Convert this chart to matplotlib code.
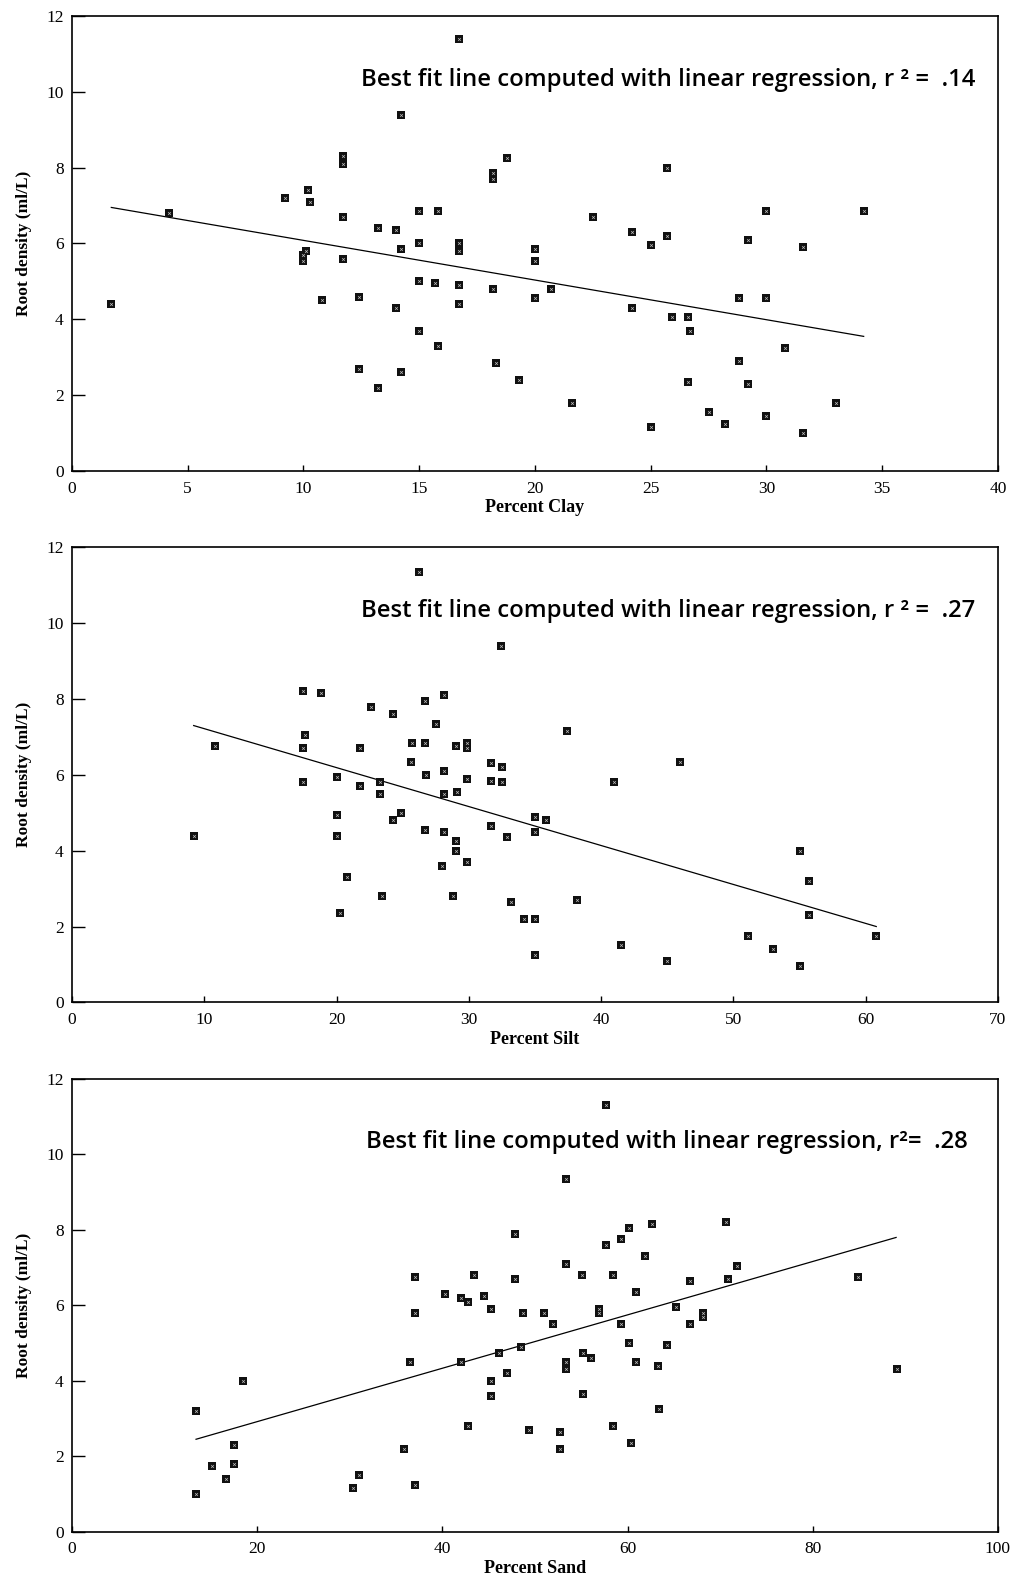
import matplotlib
matplotlib.use("Agg")
import matplotlib.pyplot as plt
import numpy as np

# ---- data ----
clay_x = [1.7, 4.2, 9.2, 10.0, 10.0, 10.1, 10.2, 10.3, 10.8, 11.7, 11.7, 11.7, 11.7,
          12.4, 12.4, 13.2, 13.2, 14.0, 14.0, 14.2, 14.2, 14.2, 15.0, 15.0, 15.0, 15.0,
          15.7, 15.8, 15.8, 16.7, 16.7, 16.7, 16.7, 16.7, 18.2, 18.2, 18.2, 18.3, 18.8,
          19.3, 20.0, 20.0, 20.0, 20.7, 21.6, 22.5, 24.2, 24.2, 25.0, 25.0, 25.7, 25.7,
          25.9, 26.6, 26.7, 26.6, 27.5, 28.2, 28.8, 28.8, 29.2, 29.2, 30.0, 30.0, 30.0,
          30.8, 31.6, 31.6, 33.0, 34.2]
clay_y = [4.4, 6.8, 7.2, 5.55, 5.7, 5.8, 7.4, 7.1, 4.5, 8.3, 8.1, 6.7, 5.6,
          4.6, 2.7, 6.4, 2.2, 6.35, 4.3, 9.4, 5.85, 2.6, 6.85, 6.0, 5.0, 3.7,
          4.95, 6.85, 3.3, 11.4, 6.0, 5.8, 4.9, 4.4, 7.85, 7.7, 4.8, 2.85, 8.25,
          2.4, 5.85, 5.55, 4.55, 4.8, 1.8, 6.7, 6.3, 4.3, 5.95, 1.15, 8.0, 6.2,
          4.05, 4.05, 3.7, 2.35, 1.55, 1.25, 4.55, 2.9, 6.1, 2.3, 6.85, 4.55, 1.45,
          3.25, 5.9, 1.0, 1.8, 6.85]
clay_fit_x = [1.7, 34.2]
clay_fit_y = [6.95, 3.55]

silt_x = [9.2, 10.8, 17.5, 17.6, 17.5, 17.5, 18.8, 20.0, 20.0, 20.0, 20.3, 20.8,
          21.8, 21.8, 22.6, 23.3, 23.3, 23.4, 24.3, 24.3, 24.9, 25.7, 25.6, 26.2,
          26.7, 26.7, 26.8, 26.7, 27.5, 28.1, 28.1, 28.1, 28.1, 28.0, 28.8, 29.0,
          29.1, 29.0, 29.0, 29.9, 29.9, 29.9, 29.9, 31.7, 31.7, 31.7, 32.4, 32.5,
          32.5, 32.9, 33.2, 34.2, 35.0, 35.0, 35.0, 35.0, 35.8, 37.4, 38.2, 41.0,
          41.5, 45.0, 46.0, 51.1, 53.0, 55.0, 55.0, 55.7, 55.7, 60.8]
silt_y = [4.4, 6.75, 8.2, 7.05, 6.7, 5.8, 8.15, 5.95, 4.95, 4.4, 2.35, 3.3,
          6.7, 5.7, 7.8, 5.8, 5.5, 2.8, 7.6, 4.8, 5.0, 6.85, 6.35, 11.35,
          7.95, 6.85, 6.0, 4.55, 7.35, 8.1, 6.1, 5.5, 4.5, 3.6, 2.8, 6.75,
          5.55, 4.25, 4.0, 6.85, 6.7, 5.9, 3.7, 6.3, 5.85, 4.65, 9.4, 6.2,
          5.8, 4.35, 2.65, 2.2, 4.9, 4.5, 2.2, 1.25, 4.8, 7.15, 2.7, 5.8,
          1.5, 1.1, 6.35, 1.75, 1.4, 4.0, 0.95, 3.2, 2.3, 1.75]
silt_fit_x = [9.2, 60.8]
silt_fit_y = [7.3, 2.0]

sand_x = [13.4, 13.4, 15.1, 16.6, 17.5, 17.5, 18.5, 30.3, 31.0, 35.9, 36.5, 37.0,
          37.0, 37.0, 40.3, 42.0, 42.0, 42.8, 42.8, 43.4, 44.5, 45.3, 45.3, 45.3,
          46.1, 47.0, 47.8, 47.8, 48.5, 48.7, 49.4, 51.0, 51.9, 52.7, 52.7, 53.3,
          53.4, 53.4, 53.4, 55.1, 55.2, 55.2, 56.0, 56.9, 56.9, 57.7, 57.7, 58.4,
          58.4, 59.3, 59.3, 60.2, 60.2, 60.4, 60.9, 60.9, 61.9, 62.6, 63.3, 63.4,
          64.3, 65.2, 66.7, 66.7, 68.2, 68.2, 70.6, 70.8, 71.8, 84.9, 89.1]
sand_y = [3.2, 1.0, 1.75, 1.4, 2.3, 1.8, 4.0, 1.15, 1.5, 2.2, 4.5, 6.75,
          5.8, 1.23, 6.3, 6.2, 4.5, 6.1, 2.8, 6.8, 6.25, 5.9, 4.0, 3.6,
          4.75, 4.2, 7.9, 6.7, 4.9, 5.8, 2.7, 5.8, 5.5, 2.65, 2.2, 4.3,
          4.5, 7.1, 9.35, 6.8, 4.75, 3.65, 4.6, 5.9, 5.8, 11.3, 7.6, 6.8,
          2.8, 7.75, 5.5, 8.05, 5.0, 2.35, 6.35, 4.5, 7.3, 8.15, 4.4, 3.25,
          4.95, 5.95, 6.65, 5.5, 5.8, 5.7, 8.2, 6.7, 7.05, 6.75, 4.3]
sand_fit_x = [13.4, 89.0]
sand_fit_y = [2.45, 7.8]

panels = [
    ("Percent Clay", clay_x, clay_y, clay_fit_x, clay_fit_y, 40, 5,
     "Best fit line computed with linear regression, r \u00b2 =  .14", 0.976),
    ("Percent Silt", silt_x, silt_y, silt_fit_x, silt_fit_y, 70, 10,
     "Best fit line computed with linear regression, r \u00b2 =  .27", 0.976),
    ("Percent Sand", sand_x, sand_y, sand_fit_x, sand_fit_y, 100, 20,
     "Best fit line computed with linear regression, r\u00b2=  .28", 0.967),
]
# axes boxes [left, bottom, width, height] in figure fraction
boxes = [[0.0709, 0.7021, 0.9123, 0.2878],
         [0.0709, 0.3660, 0.9123, 0.2878],
         [0.0709, 0.0312, 0.9123, 0.2863]]

serif = ["Liberation Serif", "DejaVu Serif"]

fig = plt.figure(figsize=(10.15, 15.81), dpi=100)

for (xlabel, xs, ys, fx, fy, xmax, xstep, note, note_x), box in zip(panels, boxes):
    ax = fig.add_axes(box)
    ax.plot(fx, fy, color="black", lw=0.9, zorder=2)
    ax.scatter(xs, ys, marker="s", s=40, color="#111111", zorder=3, linewidths=0)
    ax.scatter(xs, ys, marker="x", s=4, color="#bbbbbb", zorder=4, linewidths=0.5)

    ax.set_xlim(0, xmax)
    ax.set_ylim(0, 12)
    ax.set_xticks(np.arange(0, xmax + 1, xstep))
    ax.set_yticks(np.arange(0, 13, 2))
    ax.tick_params(axis="y", direction="in", length=9, width=1.0, pad=6,
                   labelsize=12.5, right=False)
    ax.tick_params(axis="x", direction="in", length=4.5, width=1.0, pad=7,
                   labelsize=12.5, top=False)
    for lab in ax.get_xticklabels() + ax.get_yticklabels():
        lab.set_family(serif)
    for sp in ax.spines.values():
        sp.set_linewidth(1.2)

    ax.set_xlabel(xlabel, family=serif, fontsize=13, fontweight="bold", labelpad=2)
    ax.set_ylabel("Root density (ml/L)", family=serif, fontsize=12.5,
                  fontweight="bold", labelpad=10)
    ax.text(note_x, 0.86, note, transform=ax.transAxes, ha="right", va="center",
            fontsize=17.2, fontweight="semibold", family=["Open Sans", "DejaVu Sans"])

fig.savefig("out.png", dpi=100)
